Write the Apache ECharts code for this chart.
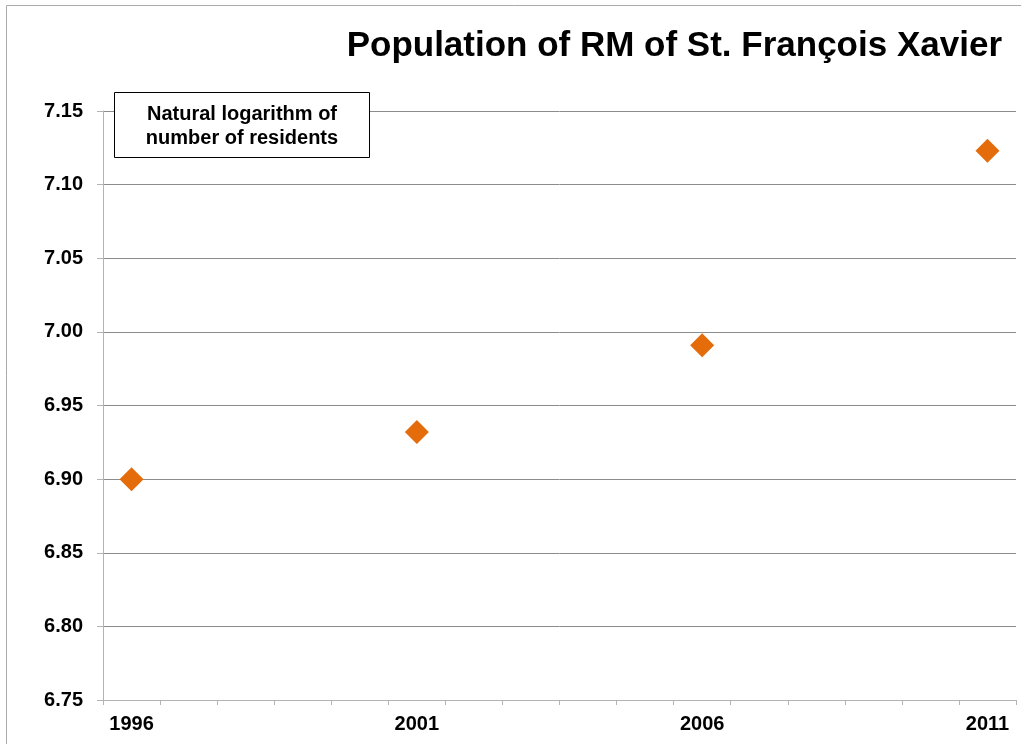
<!DOCTYPE html>
<html>
<head>
<meta charset="utf-8">
<script src="https://cdn.jsdelivr.net/npm/echarts@6/dist/echarts.min.js"></script>
<style>
  html, body { margin: 0; padding: 0; background: #fff; }
  #myChart { width: 1021px; height: 744px; }
</style>
</head>
<body>
<div id="myChart"></div>
<script>
  // census years and ln(population)
  var years = ['1996', '1997', '1998', '1999', '2000', '2001', '2002', '2003',
               '2004', '2005', '2006', '2007', '2008', '2009', '2010', '2011'];
  var censusYears = ['1996', '2001', '2006', '2011'];
  var lnResidents = [6.900, 6.932, 6.991, 7.123];

  var points = censusYears.map(function (y, i) { return [y, lnResidents[i]]; });

  var myChart = echarts.init(document.getElementById('myChart'));
  var labelFont = { color: '#000', fontSize: 20, fontWeight: 'bold', fontFamily: 'Liberation Sans, Arial, sans-serif' };

  myChart.setOption({
    backgroundColor: '#fff',
    animation: false,
    title: {
      text: 'Population of RM of St. François Xavier',
      right: 14,
      top: 24,
      textStyle: { color: '#000', fontSize: 35, fontWeight: 'bold', fontFamily: 'Liberation Sans, Arial, sans-serif' }
    },
    graphic: [
      {
        type: 'rect',
        silent: true,
        shape: { x: 6.5, y: 5.5, width: 1100, height: 800 },
        style: { fill: 'none', stroke: '#aaaaaa', lineWidth: 1 }
      },
      {
        type: 'rect',
        z: 10,
        shape: { x: 114.5, y: 92.5, width: 255, height: 65 },
        style: { fill: '#fff', stroke: '#000', lineWidth: 1 }
      },
      {
        type: 'text',
        z: 11,
        x: 242,
        y: 126,
        style: {
          text: 'Natural logarithm of\nnumber of residents',
          align: 'center',
          verticalAlign: 'middle',
          lineHeight: 24,
          fill: '#000',
          fontSize: 20,
          fontWeight: 'bold',
          fontFamily: 'Liberation Sans, Arial, sans-serif'
        }
      }
    ],
    grid: { left: 103, right: 5, top: 111, bottom: 44 },
    xAxis: {
      type: 'category',
      data: years,
      boundaryGap: true,
      axisLine: { lineStyle: { color: '#b3b3b3', width: 1 } },
      axisTick: { show: true, interval: 0, length: 5, lineStyle: { color: '#b3b3b3' } },
      axisLabel: Object.assign({ interval: 4, margin: 14 }, labelFont),
      splitLine: { show: false }
    },
    yAxis: {
      type: 'value',
      min: 6.75,
      max: 7.15,
      interval: 0.05,
      axisLine: { show: true, lineStyle: { color: '#b3b3b3', width: 1 } },
      axisTick: { show: true, length: 6, lineStyle: { color: '#b3b3b3' } },
      axisLabel: Object.assign({ margin: 20, formatter: function (v) { return v.toFixed(2); } }, labelFont),
      splitLine: { show: true, lineStyle: { color: '#8c8c8c', width: 1 } }
    },
    series: [
      {
        type: 'scatter',
        symbol: 'diamond',
        symbolSize: 24,
        itemStyle: { color: '#E46C0A', opacity: 1 },
        data: points
      }
    ]
  });
</script>
</body>
</html>
